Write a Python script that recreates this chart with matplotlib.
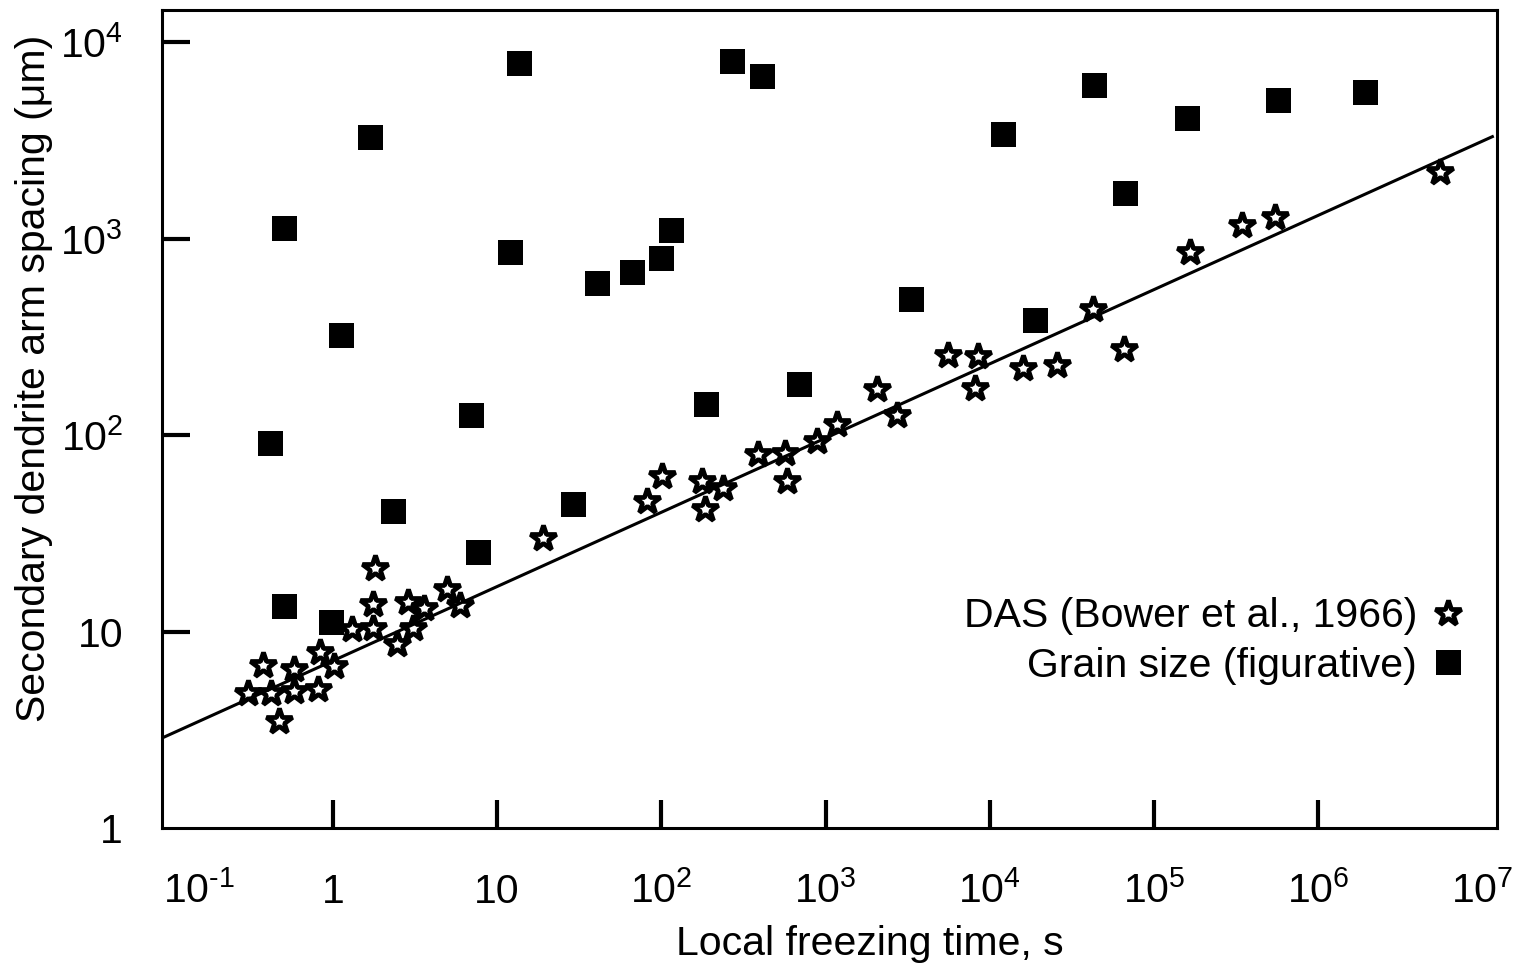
import matplotlib.pyplot as plt
from matplotlib.lines import Line2D
from matplotlib.transforms import ScaledTranslation

plt.rcParams['font.family'] = ['Liberation Sans', 'DejaVu Sans']
plt.rcParams['mathtext.fontset'] = 'custom'
plt.rcParams['mathtext.rm'] = 'Liberation Sans'

FS = 29.5

# secondary dendrite arm spacing, Bower et al. 1966 (local freezing time s, DAS um)
das_t = [0.304, 0.375, 0.419, 0.469, 0.578, 0.578, 0.811, 0.834, 1.01, 1.31,
         1.75, 1.75, 1.80, 2.45, 2.86, 3.07, 3.58, 4.94, 5.93, 19.0,
         81.7, 101, 177, 185, 237, 387, 566, 582, 887, 1173,
         2056, 2722, 5563, 8120, 8470, 15920, 25650, 42560, 65600, 165600,
         343600, 545800, 5.52e6]
das_um = [4.87, 6.77, 4.87, 3.51, 6.46, 4.99, 5.11, 7.88, 6.69, 10.3,
          13.8, 10.4, 21.1, 8.65, 14.2, 10.4, 13.2, 16.5, 13.7, 30.0,
          46.3, 62.1, 58.6, 42.2, 54.0, 80.4, 81.3, 58.6, 93.6, 114,
          172, 126, 254, 174, 251, 220, 226, 440, 275, 849,
          1166, 1282, 2172]

# grain size (figurative)
grain_t = [0.413, 0.50, 1.12, 1.68, 0.50, 0.97, 2.32, 6.92, 7.64, 11.97,
           13.6, 29, 40.5, 66.2, 99.5, 114.5, 187, 269, 410, 689,
           3311, 12020, 18840, 43130, 66600, 158800, 568000, 1.93e6]
grain_um = [91.5, 1125, 321, 3273, 13.5, 11.2, 41.2, 127, 25.5, 849,
            7800, 44.7, 597, 672, 792, 1099, 143, 7980, 6700, 181,
            495, 3390, 387, 6025, 1698, 4090, 5055, 5550]

# fitted line end points
fit_t = [0.091, 1.15e7]
fit_um = [2.87, 3300]

xtick_vals = [1e-1, 1, 10, 1e2, 1e3, 1e4, 1e5, 1e6, 1e7]
xtick_labels = [r'$\mathregular{10^{\text{-}1}}$', '1', '10', r'$\mathregular{10^{2}}$',
                r'$\mathregular{10^{3}}$', r'$\mathregular{10^{4}}$',
                r'$\mathregular{10^{5}}$', r'$\mathregular{10^{6}}$',
                r'$\mathregular{10^{7}}$']
ytick_vals = [1, 10, 1e2, 1e3, 1e4]
ytick_labels = ['1', '10', r'$\mathregular{10^{2}}$', r'$\mathregular{10^{3}}$',
                r'$\mathregular{10^{4}}$']

fig = plt.figure(figsize=(15.2, 9.68), dpi=100)
ax = fig.add_axes([162 / 1520, 1 - 828 / 968, 1335 / 1520, 818 / 968])

star_kw = dict(ls='none', marker='*', ms=19, mfc='white', mec='black', mew=3.4)
sq_kw = dict(ls='none', marker='s', ms=18, mfc='black', mec='black', mew=0)

ax.plot(grain_t, grain_um, zorder=2, **sq_kw)
ax.plot(das_t, das_um, zorder=3, **star_kw)
ax.plot(fit_t, fit_um, color='black', lw=2.2, zorder=4)

ax.set_xscale('log')
ax.set_yscale('log')
ax.set_xlim(0.091, 1.227e7)
ax.set_ylim(1, 14555)

ax.minorticks_off()
ax.set_xticks(xtick_vals)
ax.set_xticklabels(xtick_labels, fontsize=FS)
ax.set_yticks(ytick_vals)
ax.set_yticklabels(ytick_labels, fontsize=FS)
ax.tick_params(axis='both', which='major', direction='in', length=20, width=3)
ax.tick_params(axis='x', pad=54)
ax.tick_params(axis='y', pad=28)
plt.setp(ax.get_xticklabels(), va='baseline')
xt = ax.xaxis.get_major_ticks()
xt[0].tick1line.set_visible(False)
xt[-1].tick1line.set_visible(False)
xt[0].label1.set_transform(xt[0].label1.get_transform()
                           + ScaledTranslation(0.3, 0, fig.dpi_scale_trans))
ax.yaxis.get_major_ticks()[0].tick1line.set_visible(False)

for s in ax.spines.values():
    s.set_linewidth(2.2)

ax.set_xlabel('Local freezing time, s', fontsize=FS)
ax.xaxis.set_label_coords(0.53, -0.119)
ax.set_ylabel('Secondary dendrite arm spacing (\u03bcm)', fontsize=FS)
ax.yaxis.set_label_coords(-0.082, 0.55)

handles = [Line2D([], [], **star_kw), Line2D([], [], **sq_kw)]
ax.legend(handles, ['DAS (Bower et al., 1966)', 'Grain size (figurative)'],
          loc='center right', bbox_to_anchor=(1.006, 0.2286),
          markerfirst=False, frameon=False, fontsize=FS, handlelength=1.0,
          handletextpad=0.25, labelspacing=0.27, borderpad=0.4)

fig.savefig('out.png', dpi=100)
